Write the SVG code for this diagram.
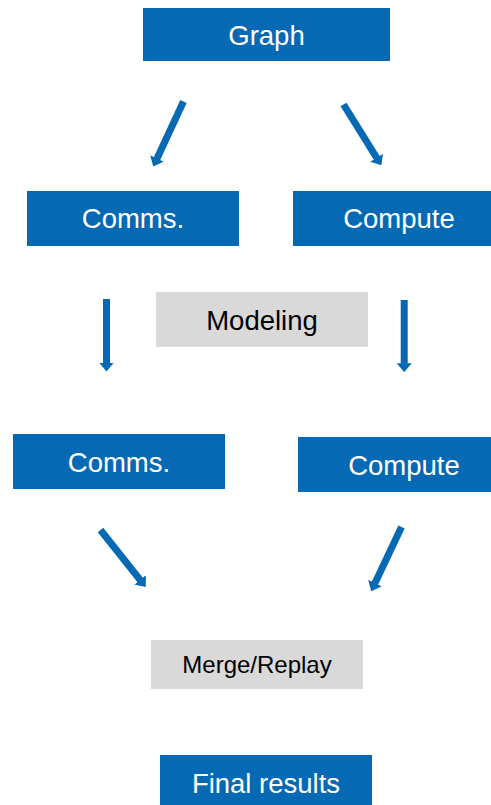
<svg xmlns="http://www.w3.org/2000/svg" width="491" height="805" viewBox="0 0 491 805">
  <style>
    .blue { fill: #0569B4; }
    .gray { fill: #D9D9D9; }
    .wt { fill: #FFFFFF; font-family: "Liberation Sans", Arial, sans-serif; font-size: 27.5px; text-anchor: middle; }
    .bt { fill: #000000; font-family: "Liberation Sans", Arial, sans-serif; text-anchor: middle; }
    .conn { stroke: #0569B4; stroke-width: 7; fill: none; marker-end: url(#head); }
  </style>
  <defs>
    <marker id="head" viewBox="0 0 9 15" refX="0.5" refY="7.5" markerWidth="9" markerHeight="15" markerUnits="userSpaceOnUse" orient="auto">
      <path d="M0,0 L9,7.5 L0,15 z" fill="#0569B4"/>
    </marker>
  </defs>
  <rect width="491" height="805" fill="#FFFFFF"/>

  <g id="graph">
    <rect class="blue" x="143" y="8" width="247" height="53"/>
    <text class="wt" x="266.5" y="45">Graph</text>
  </g>
  <g id="comms1">
    <rect class="blue" x="27" y="191" width="212" height="55"/>
    <text class="wt" x="133" y="228">Comms.</text>
  </g>
  <g id="compute1">
    <rect class="blue" x="293" y="191" width="212" height="55"/>
    <text class="wt" x="399" y="228">Compute</text>
  </g>
  <g id="modeling">
    <rect class="gray" x="156" y="292" width="212" height="55"/>
    <text class="bt" x="262" y="330" font-size="27.5">Modeling</text>
  </g>
  <g id="comms2">
    <rect class="blue" x="13" y="434" width="212" height="55"/>
    <text class="wt" x="119" y="471.5">Comms.</text>
  </g>
  <g id="compute2">
    <rect class="blue" x="298" y="437" width="212" height="55"/>
    <text class="wt" x="404" y="474.5">Compute</text>
  </g>
  <g id="merge">
    <rect class="gray" x="151" y="640" width="212" height="49"/>
    <text class="bt" x="257" y="672.5" font-size="24">Merge/Replay</text>
  </g>
  <g id="final">
    <rect class="blue" x="160" y="755" width="212" height="52"/>
    <text class="wt" x="266" y="792.5">Final results</text>
  </g>

  <g id="connectors">
    <line class="conn" x1="183.5" y1="101.5" x2="156.8" y2="158.9"/>
    <line class="conn" x1="343.5" y1="104.5" x2="376.9" y2="158.1"/>
    <line class="conn" x1="106.5" y1="299" x2="106.5" y2="363"/>
    <line class="conn" x1="404.2" y1="300" x2="404.2" y2="363.7"/>
    <line class="conn" x1="100.5" y1="530" x2="140.4" y2="580.3"/>
    <line class="conn" x1="401.5" y1="527" x2="374.8" y2="583.5"/>
  </g>
</svg>
